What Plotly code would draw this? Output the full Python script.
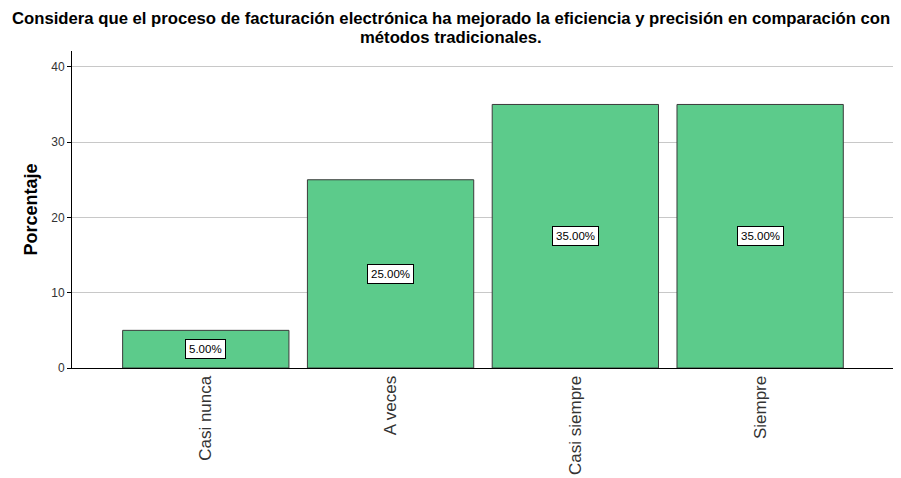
import plotly.graph_objects as go

categories = ["Casi nunca", "A veces", "Casi siempre", "Siempre"]
values = [5.0, 25.0, 35.0, 35.0]
y_ticks = [0, 10, 20, 30, 40]
title_lines = [
    "Considera que el proceso de facturación electrónica ha mejorado la eficiencia y precisión en comparación con",
    "métodos tradicionales.",
]

FONT = "Liberation Sans, Arial"
fig = go.Figure()
fig.add_trace(go.Bar(
    x=list(range(len(categories))), y=values, width=0.9,
    marker=dict(color="#5CCB8B", line=dict(color="#3a3a3a", width=1)),
    hoverinfo="skip",
))

for i, v in enumerate(values):
    fig.add_annotation(
        x=i, y=v / 2, text=f"{v:.2f}%", showarrow=False,
        font=dict(family=FONT, size=11.5, color="black"),
        bgcolor="white", bordercolor="black", borderwidth=1, borderpad=3,
    )

# title lines (plot area spans 317 px in height, top at 51 px)
for ypx, line in zip([19, 37], title_lines):
    fig.add_annotation(
        xref="paper", yref="paper", x=(450.5 - 72) / 821, y=(368 - ypx) / 317,
        xanchor="center", yanchor="middle", text=line, showarrow=False,
        font=dict(family=FONT, size=16.7, color="black", weight="bold"),
    )

fig.update_layout(
    width=901, height=478,
    margin=dict(l=72, r=8, t=51, b=110),
    paper_bgcolor="white", plot_bgcolor="white",
    showlegend=False,
    xaxis=dict(
        range=[-0.724, 3.719], automargin=False,
        tickmode="array", tickvals=list(range(len(categories))), ticktext=categories,
        tickangle=-90, ticks="", showgrid=False, zeroline=False,
        showline=True, linecolor="black", linewidth=1,
        tickfont=dict(family=FONT, size=17, color="#333333"),
    ),
    yaxis=dict(
        range=[0, 42.1], automargin=False, tickmode="array", tickvals=y_ticks,
        showgrid=True, gridcolor="#c8c8c8", gridwidth=1, zeroline=False,
        showline=True, linecolor="black", linewidth=1,
        ticks="outside", ticklen=4, tickcolor="black",
        tickfont=dict(family=FONT, size=12, color="#333333"),
        title=dict(text="Porcentaje", standoff=8,
                   font=dict(family=FONT, size=18, color="black", weight="bold")),
    ),
    bargap=0.1,
)

fig.write_html("out.html")
